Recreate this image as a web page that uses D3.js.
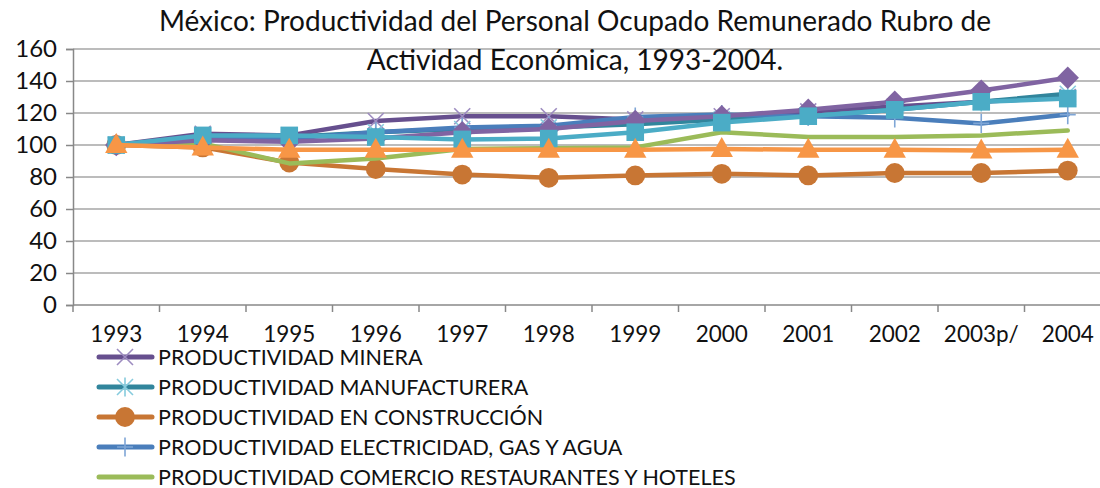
<!DOCTYPE html>
<html>
<head>
<meta charset="utf-8">
<script src="https://cdn.jsdelivr.net/npm/d3@7"></script>
<style>
  body { margin: 0; background: #fff; overflow: hidden; }
  svg { display: block; }
</style>
</head>
<body>
<svg id="chart"></svg>
<script>
// categories
const years = ["1993", "1994", "1995", "1996", "1997", "1998", "1999", "2000", "2001", "2002", "2003p/", "2004"];
const yTicks = [0, 20, 40, 60, 80, 100, 120, 140, 160];

// series values (index 1993 = 100)
const minera        = [100, 107, 106, 115, 118, 118, 116, 118, 121, 124, 127, 130];
const manufacturera = [100, 105, 105, 108, 110, 111, 113, 116, 118, 122, 127, 132];
const construccion  = [100, 98.5, 89, 85, 81.5, 79.5, 81, 82, 81, 82.5, 82.5, 84];
const electricidad  = [100, 104, 104, 108, 111, 112, 117.5, 119, 118, 117, 113.5, 119];
const comercio      = [100, 101, 88.5, 91.5, 97.5, 98, 98.5, 108, 105, 105, 106, 109];
const serieDiamante = [100, 103, 102, 104, 108, 110, 115, 118, 122, 127, 134, 142];
const serieCuadro   = [100, 106, 106, 105, 103.5, 104, 108, 114, 118, 122, 127, 129];
const serieTriangulo = [100, 98.5, 97, 97, 97, 97, 97, 97.5, 97, 97, 96.5, 97];

// legend labels visible in the picture (the remaining entries fall below the frame)
const legendNames = [
    "PRODUCTIVIDAD MINERA",
    "PRODUCTIVIDAD MANUFACTURERA",
    "PRODUCTIVIDAD EN CONSTRUCCIÓN",
    "PRODUCTIVIDAD ELECTRICIDAD, GAS Y AGUA",
    "PRODUCTIVIDAD COMERCIO RESTAURANTES Y HOTELES"
];

const series = [
    { name: legendNames[0], values: minera,        color: "#664f8e", mcolor: "#9d8cc0", marker: "x" },
    { name: legendNames[1], values: manufacturera, color: "#31859c", mcolor: "#86cbdd", marker: "star" },
    { name: legendNames[2], values: construccion,  color: "#c87634", mcolor: "#c87634", marker: "circle" },
    { name: legendNames[3], values: electricidad,  color: "#4a7ebb", mcolor: "#7fa6d6", marker: "plus" },
    { name: legendNames[4], values: comercio,      color: "#9bbb59", mcolor: "#9bbb59", marker: "none" },
    { name: null, values: serieDiamante,  color: "#8064a2", mcolor: "#8064a2", marker: "diamond" },
    { name: null, values: serieCuadro,    color: "#4bacc6", mcolor: "#4bacc6", marker: "square" },
    { name: null, values: serieTriangulo, color: "#f79646", mcolor: "#f79646", marker: "triangle" }
];

const width = 1100, height = 488;
const font = "Lato, 'Open Sans', sans-serif";
const plot = { left: 73, top: 49, bottom: 305, band: 86.5 };

const svg = d3.select("#chart").attr("width", width).attr("height", height);

const x = d3.scaleBand()
    .domain(years)
    .range([plot.left, plot.left + plot.band * years.length])
    .padding(0);

const y = d3.scaleLinear()
    .domain([0, 160])
    .range([plot.bottom, plot.top]);

const cx = d => x(d) + x.bandwidth() / 2;

// Gridlines
svg.append("g")
    .selectAll("line")
    .data(yTicks.filter(t => t > 0))
    .enter()
    .append("line")
    .attr("x1", plot.left)
    .attr("x2", width)
    .attr("y1", d => y(d))
    .attr("y2", d => y(d))
    .attr("stroke", "#a6a6a6")
    .attr("stroke-width", 1.5);

// Y Axis
const yAxis = svg.append("g")
    .attr("transform", `translate(${plot.left},0)`)
    .call(d3.axisLeft(y).tickValues(yTicks).tickSize(7).tickPadding(9));
yAxis.select(".domain").attr("stroke", "#888").attr("stroke-width", 1.5);
yAxis.selectAll(".tick line").attr("stroke", "#888").attr("stroke-width", 1.5);
yAxis.selectAll("text")
    .attr("fill", "#111")
    .style("font-family", font)
    .style("font-size", "24px");

// X Axis
const xAxis = svg.append("g")
    .attr("transform", `translate(0,${plot.bottom})`)
    .call(d3.axisBottom(x).tickSize(0).tickPadding(21));
xAxis.select(".domain").remove();
xAxis.selectAll("text")
    .attr("fill", "#111")
    .style("font-family", font)
    .style("font-size", "22.5px");
svg.append("line")
    .attr("x1", plot.left).attr("x2", width)
    .attr("y1", plot.bottom).attr("y2", plot.bottom)
    .attr("stroke", "#888").attr("stroke-width", 1.5);
svg.append("g")
    .selectAll("line")
    .data(years)
    .enter()
    .append("line")
    .attr("x1", d => x(d)).attr("x2", d => x(d))
    .attr("y1", plot.bottom).attr("y2", plot.bottom + 7)
    .attr("stroke", "#888").attr("stroke-width", 1.5);

// marker drawing
function drawMarker(g, type, color, size) {
    const s = size;
    if (type === "circle") {
        g.append("circle").attr("r", s * 0.62).attr("fill", color);
    } else if (type === "square") {
        g.append("rect").attr("x", -s * 0.55).attr("y", -s * 0.55)
            .attr("width", s * 1.1).attr("height", s * 1.1).attr("fill", color);
    } else if (type === "triangle") {
        g.append("path").attr("d", `M0,${-s * 0.75}L${s * 0.7},${s * 0.5}L${-s * 0.7},${s * 0.5}Z`).attr("fill", color);
    } else if (type === "diamond") {
        g.append("path").attr("d", `M0,${-s * 0.7}L${s * 0.7},0L0,${s * 0.7}L${-s * 0.7},0Z`).attr("fill", color);
    } else if (type === "x" || type === "star" || type === "plus") {
        const h = s * 0.5;
        let p = "";
        if (type !== "plus") p += `M${-h},${-h}L${h},${h}M${-h},${h}L${h},${-h}`;
        if (type !== "x") p += `M0,${-h * 1.2}L0,${h * 1.2}`;
        if (type === "plus") p += `M${-h},0L${h},0`;
        g.append("path").attr("d", p).attr("stroke", color).attr("stroke-width", 1.6).attr("fill", "none");
    }
}

// Lines and markers
const line = d3.line()
    .x((d, i) => cx(years[i]))
    .y(d => y(d));

series.forEach(s => {
    const g = svg.append("g");
    g.append("path")
        .datum(s.values)
        .attr("d", line)
        .attr("fill", "none")
        .attr("stroke", s.color)
        .attr("stroke-width", 4.5)
        .attr("stroke-linejoin", "round")
        .attr("stroke-linecap", "round");
    if (s.marker !== "none") {
        g.selectAll("g.m")
            .data(s.values)
            .enter()
            .append("g")
            .attr("class", "m")
            .attr("transform", (d, i) => `translate(${cx(years[i])},${y(d)})`)
            .each(function () { drawMarker(d3.select(this), s.marker, s.mcolor, 16); });
    }
});

// Title
const title = svg.append("text")
    .attr("x", 575)
    .attr("text-anchor", "middle")
    .attr("fill", "#111")
    .style("font-family", font)
    .style("font-size", "28px");
title.append("tspan").attr("x", 575).attr("y", 31).text("México: Productividad del Personal Ocupado Remunerado Rubro de");
title.append("tspan").attr("x", 575).attr("y", 70).text("Actividad Económica, 1993-2004.");

// Legend
const legend = svg.append("g")
    .selectAll("g")
    .data(series.filter(d => d.name))
    .enter()
    .append("g")
    .attr("transform", (d, i) => `translate(99,${357 + i * 30})`);
legend.append("line")
    .attr("x1", 0).attr("x2", 53)
    .attr("stroke", d => d.color)
    .attr("stroke-width", 5)
    .attr("stroke-linecap", "round");
legend.each(function (d) {
    if (d.marker === "none") return;
    const m = d3.select(this).append("g").attr("transform", "translate(26,0)");
    drawMarker(m, d.marker, d.mcolor, 16);
});
legend.append("text")
    .attr("x", 59)
    .attr("dy", "0.36em")
    .attr("fill", "#111")
    .style("font-family", font)
    .style("font-size", "21.5px")
    .text(d => d.name);
</script>
</body>
</html>
